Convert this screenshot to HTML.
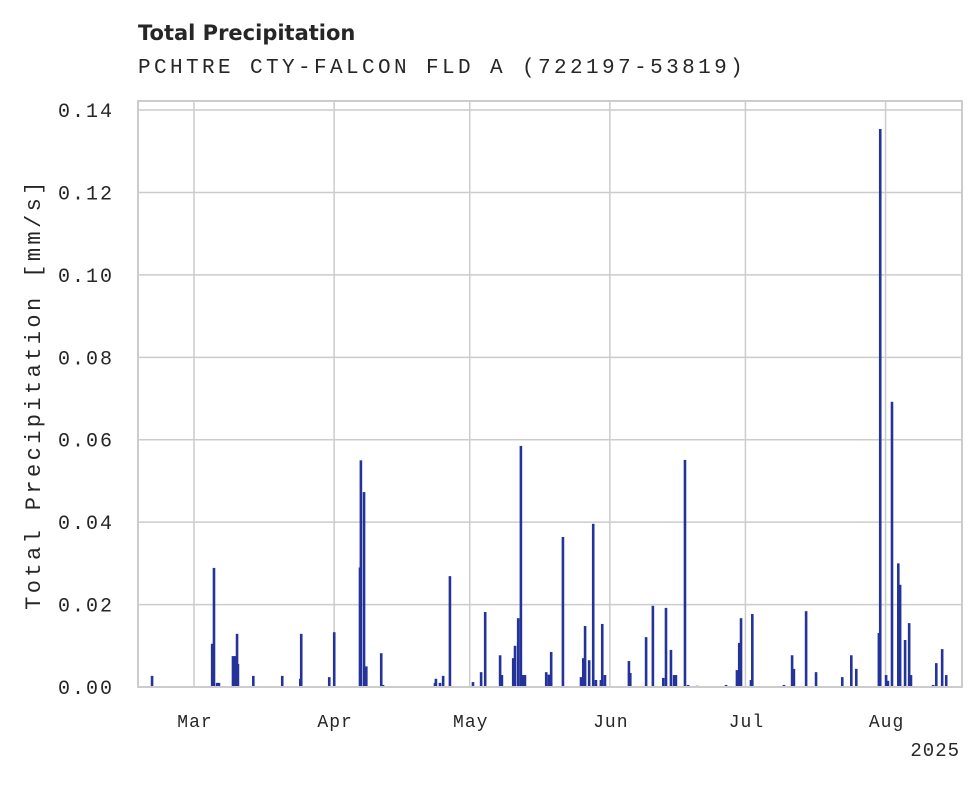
<!DOCTYPE html>
<html><head><meta charset="utf-8"><style>
body{margin:0;background:#fff;width:980px;height:783px;overflow:hidden}
svg text{fill:#262626}
</style></head><body>
<svg width="980" height="783" id="chart">
<text x="138" y="40" font-family="DejaVu Sans, sans-serif" font-weight="bold" font-size="21">Total Precipitation</text>
<text x="138" y="73" font-family="Liberation Mono, monospace" font-size="21" letter-spacing="3.4">PCHTRE CTY-FALCON FLD A (722197-53819)</text>
<g id="grid"></g><g id="bars"></g><g id="ticks"></g>
<rect x="138" y="101" width="824" height="586" fill="none" stroke="#cccccc" stroke-width="2"/>
<text transform="translate(40,394) rotate(-90)" text-anchor="middle" font-family="Liberation Mono, monospace" font-size="22" letter-spacing="3.4">Total Precipitation [mm/s]</text>
<text x="960" y="756" text-anchor="end" font-family="Liberation Mono, monospace" font-size="19" letter-spacing="1">2025</text>
</svg>
<script>
// days since Mar 1 2025
const days=[-9.3,4.0,4.4,5.1,5.5,8.6,9.1,9.5,9.7,13.1,19.5,23.5,23.7,29.9,31.0,36.7,36.9,37.6,38.1,41.4,41.8,53.3,53.5,54.4,55.1,56.6,61.7,63.5,64.4,67.7,68.1,70.6,71.0,71.7,72.3,72.8,73.2,77.9,78.5,79.0,81.6,85.6,86.1,86.5,87.4,88.3,88.9,90.0,90.3,90.9,96.2,96.5,100.0,101.5,103.8,104.4,105.5,106.2,106.6,108.6,109.3,111.3,117.7,120.1,120.6,121.0,123.2,123.5,130.5,132.3,132.7,135.4,137.6,143.4,145.4,146.5,151.5,151.8,153.1,153.5,154.4,155.8,156.0,156.2,157.3,158.2,158.6,163.5,164.2,165.5,166.4];
const values=[0.0027,0.0105,0.0289,0.001,0.001,0.0075,0.0075,0.0129,0.0056,0.0027,0.0027,0.002,0.0129,0.0024,0.0133,0.029,0.055,0.0473,0.005,0.0082,0.0005,0.001,0.002,0.001,0.0027,0.0269,0.0012,0.0036,0.0182,0.0077,0.0029,0.007,0.01,0.0167,0.0585,0.0029,0.0029,0.0036,0.003,0.0085,0.0364,0.0024,0.007,0.0148,0.0065,0.0396,0.0017,0.0017,0.0153,0.0029,0.0063,0.0034,0.0121,0.0197,0.0022,0.0192,0.009,0.0029,0.0029,0.0551,0.0005,0.0003,0.0005,0.0041,0.0107,0.0167,0.0017,0.0177,0.0005,0.0077,0.0044,0.0184,0.0036,0.0024,0.0077,0.0044,0.0131,0.1354,0.0029,0.0015,0.0692,0.03,0.019,0.0248,0.0114,0.0155,0.0029,0.0005,0.0058,0.0092,0.0029];
const yTicks=[0,0.02,0.04,0.06,0.08,0.10,0.12,0.14];
const yTickLabels=["0.00","0.02","0.04","0.06","0.08","0.10","0.12","0.14"];
const monthLabels=["Mar","Apr","May","Jun","Jul","Aug"];
const monthDays=[0,31,61,92,122,153];
const NS="http://www.w3.org/2000/svg";
const X=d=>194+d*4.52, Y=v=>687-v*4121;
const grid=document.getElementById('grid'),bars=document.getElementById('bars'),ticks=document.getElementById('ticks');
function mk(tag,attrs,parent){const e=document.createElementNS(NS,tag);for(const k in attrs)e.setAttribute(k,attrs[k]);parent.appendChild(e);return e;}
yTicks.forEach((v,i)=>{
 const l=mk('line',{x1:138,x2:962,y1:Y(v),y2:Y(v),stroke:'#cccccc','stroke-width':1.5},grid);
 
 
 const t=mk('text',{x:114,y:Y(v)+7,'text-anchor':'end','font-family':'Liberation Mono, monospace','font-size':20,'letter-spacing':2},ticks);
 t.textContent=yTickLabels[i];
 
 
});
monthDays.forEach((d,i)=>{
 const l=mk('line',{x1:X(d),x2:X(d),y1:101,y2:687,stroke:'#cccccc','stroke-width':1.5},grid);
 
 
 const t=mk('text',{x:X(d)+1,y:727,'text-anchor':'middle','font-family':'Liberation Mono, monospace','font-size':18,'letter-spacing':1},ticks);
 t.textContent=monthLabels[i];
 
 
});
days.forEach((d,i)=>{
 const r=mk('rect',{x:X(d)-1.2,y:Y(values[i]),width:2.6,height:687-Y(values[i]),fill:'#24339a'},bars);
 
 
});
</script>
</body></html>
